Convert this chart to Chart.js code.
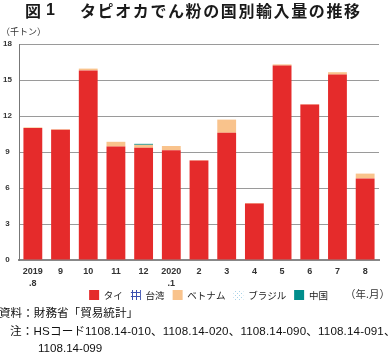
<!DOCTYPE html>
<html><head><meta charset="utf-8">
<script src="https://cdn.jsdelivr.net/npm/chart.js@4"></script>
<style>
html,body{margin:0;padding:0;background:#fff;width:389px;height:356px;overflow:hidden;}
body{position:relative;font-family:"Noto Sans CJK JP","Noto Sans",sans-serif;color:#222;}
.t{position:absolute;top:0;font-size:16px;font-weight:bold;white-space:nowrap;line-height:20px;color:#1a1a1a;}
#unit{position:absolute;left:1px;top:26px;font-size:9px;line-height:12px;color:#333;}
#ym{position:absolute;left:345px;top:287px;font-size:10.5px;line-height:14px;color:#333;}
.note{position:absolute;font-family:"Liberation Sans","Noto Sans CJK JP",sans-serif;font-size:11.6px;line-height:14px;white-space:nowrap;color:#111;}
#wrap{position:absolute;left:0;top:0;width:389px;height:316px;}
</style></head>
<body>
<div id="wrap"><canvas id="c" width="389" height="316"></canvas></div>
<div class="t" style="left:25px;">図</div>
<div class="t" style="left:46px;font-family:'Liberation Sans',sans-serif;">1</div>
<div class="t" style="left:80px;letter-spacing:1.6px;">タピオカでん粉の国別輸入量の推移</div>
<div id="unit">（千トン）</div>
<div id="ym">（年.月）</div>
<div class="note" style="left:-1px;top:306px;">資料：財務省「貿易統計」</div>
<div class="note" style="left:10px;top:324px;letter-spacing:0.15px;">注：HSコード1108.14-010、1108.14-020、1108.14-090、1108.14-091、</div>
<div class="note" style="left:38px;top:341px;">1108.14-099</div>
<script>
const categories = [["2019",".8"],"9","10","11","12",["2020",".1"],"2","3","4","5","6","7","8"];
const thai    = [11.0,10.85,15.8,9.45,9.35,9.15,8.3,10.6,4.7,16.2,12.95,15.45,6.8];
const taiwan  = [0,0,0,0,0,0,0,0,0,0,0,0,0];
const vietnam = [0.05,0.05,0.15,0.4,0.25,0.35,0.03,1.1,0.05,0.1,0.03,0.2,0.4];
const brazil  = [0,0,0,0,0,0,0,0,0,0,0,0,0];
const china   = [0,0,0,0,0.08,0,0,0,0,0,0,0,0];
const yTicks  = [0,3,6,9,12,15,18];

function makePattern(kind){
  const p=document.createElement('canvas');p.width=4;p.height=4;
  const g=p.getContext('2d');g.fillStyle='#fff';g.fillRect(0,0,4,4);
  if(kind==='grid'){g.fillStyle='#3a4fb0';g.fillRect(0,0,4,1);g.fillRect(0,0,1,4);}
  else{g.fillStyle='#a9d3e8';g.fillRect(1,1,1,1);g.fillRect(3,3,1,1);}
  return g.createPattern(p,'repeat');
}
const gridPat=makePattern('grid'), dotPat=makePattern('dot');

const legendShift={id:'legendShift',afterLayout(chart){ const l=chart.legend; if(l){l.left+=19;l.right+=19;l.top-=6;l.bottom-=6;} }};

new Chart(document.getElementById('c'),{
  type:'bar',
  data:{labels:categories,datasets:[
    {label:'タイ',data:thai,backgroundColor:'#E52B2B'},
    {label:'台湾',data:taiwan,backgroundColor:gridPat},
    {label:'ベトナム',data:vietnam,backgroundColor:'#F9C38C'},
    {label:'ブラジル',data:brazil,backgroundColor:dotPat},
    {label:'中国',data:china,backgroundColor:'#008E8C'}
  ]},
  plugins:[legendShift],
  options:{
    responsive:false,animation:false,
    layout:{padding:{top:44,right:10,left:0,bottom:0}},
    datasets:{bar:{categoryPercentage:1,barPercentage:0.68}},
    plugins:{
      tooltip:{enabled:false},
      legend:{position:'bottom',labels:{boxWidth:10,boxHeight:10,padding:8,color:'#222',font:{family:'"Noto Sans CJK JP"',size:9.5}}}
    },
    scales:{
      x:{stacked:true,grid:{display:false,drawTicks:false},border:{color:'#888',width:2},
         ticks:{color:'#333',padding:6,maxRotation:0,autoSkip:false,font:{family:'"Liberation Sans"',size:9,weight:'bold',lineHeight:1.33}},
         afterFit(s){s.height=28;}},
      y:{stacked:true,min:0,max:18,
         afterBuildTicks(s){s.ticks=yTicks.map(v=>({value:v}));},
         grid:{color:'#9a9a9a',lineWidth:1,drawTicks:false},border:{color:'#777',width:1},
         ticks:{color:'#333',padding:7,crossAlign:'center',font:{family:'"Liberation Sans"',size:8,weight:'bold'}},
         afterFit(s){s.width=19;}}
    }
  }
});
</script>
</body></html>
